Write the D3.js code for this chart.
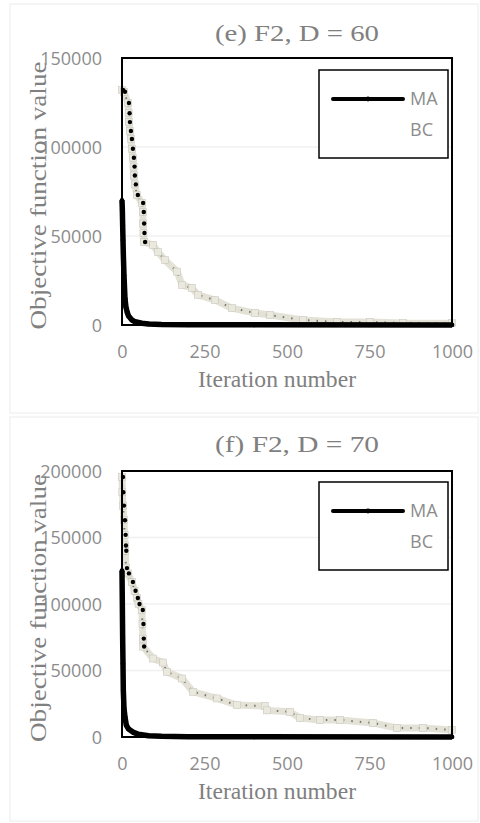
<!DOCTYPE html>
<html>
<head>
<meta charset="utf-8">
<script src="https://cdn.jsdelivr.net/npm/d3@7"></script>
<style>
  body { margin: 0; background: #fff; }
  svg { display: block; }
</style>
</head>
<body>
<div id="chart"></div>
<script>
// ---- data ----
const xTicks = [0, 250, 500, 750, 1000];
const seriesNames = ["MA", "BC"];

// panel (e) F2, D = 60
const yTicks60 = [0, 50000, 100000, 150000];
const ma60Iter = [0, 1, 2, 3, 4, 6, 9, 12, 16, 20, 30, 40, 60, 80, 120, 200, 400, 1000];
const ma60Val = [70000, 65000, 56000, 47700, 40000, 28000, 15000, 10000, 7000, 5000, 2800, 1800, 1000, 600, 300, 150, 80, 30];
const bc60Iter = [0, 6, 18, 20, 21, 24, 27, 30, 33, 35, 36, 39, 45, 61, 63, 64, 65, 67,
    94, 109, 130, 167, 182, 212, 230, 282, 333, 403, 448, 548, 651, 751, 851, 1000];
const bc60Val = [132000, 131000, 124700, 119000, 114000, 109000, 104500, 99000, 94000, 89000, 84000, 79000, 73000, 68500, 63500, 57000, 51700, 46600,
    45000, 41000, 36500, 30000, 22500, 20800, 17000, 14000, 9500, 6700, 5600, 2800, 1700, 1700, 1100, 1000];

// panel (f) F2, D = 70
const yTicks70 = [0, 50000, 100000, 150000, 200000];
const ma70Iter = [0, 1, 2, 3, 4, 6, 9, 13, 20, 33, 50, 80, 120, 200, 400, 1000];
const ma70Val = [125000, 100000, 74000, 55000, 35000, 22000, 15000, 9000, 6000, 3700, 2000, 1000, 500, 250, 100, 50];
const bc70Iter = [0, 1, 3, 6, 8, 9, 10, 12, 18, 30, 38, 45, 50, 60, 62, 63, 64,
    94, 124, 136, 182, 215, 288, 348, 433, 439, 509, 539, 600, 661, 761, 833, 912, 1000];
const bc70Val = [195500, 184000, 174000, 163000, 152000, 144000, 140000, 127000, 123000, 116500, 110000, 104500, 100000, 95500, 85000, 74000, 68000,
    59000, 56000, 49000, 44000, 34000, 29000, 24000, 23300, 20000, 19000, 14300, 12800, 12800, 10500, 6800, 6800, 5300];

const W = 480, H = 823;
const svg = d3.select("#chart").append("svg").attr("width", W).attr("height", H);

function drawPanel(p) {
    // outer frame of the chart object
    svg.append("rect")
        .attr("x", p.frame[0]).attr("y", p.frame[1])
        .attr("width", p.frame[2]).attr("height", p.frame[3])
        .attr("fill", "#fff").attr("stroke", "#ececec").attr("stroke-width", 1);

    const x = d3.scaleLinear().domain([0, 1000]).range([p.left, p.right]);
    const y = d3.scaleLinear().domain([0, p.yMax]).range([p.bottom, p.top]);

    // gridlines
    svg.append("g")
        .selectAll("line")
        .data(p.yTicks.slice(1))
        .join("line")
        .attr("x1", p.left).attr("x2", p.right)
        .attr("y1", d => y(d)).attr("y2", d => y(d))
        .attr("stroke", "#f0f0f0").attr("stroke-width", 1.5);

    // axes (labels only, the lines come from the plot border)
    const xAxis = svg.append("g")
        .attr("transform", `translate(0,${p.bottom + 20})`)
        .call(d3.axisBottom(x).tickValues(xTicks).tickSize(0).tickPadding(0).tickFormat(d3.format("d")));
    const yAxis = svg.append("g")
        .attr("transform", `translate(${p.left - 20},0)`)
        .call(d3.axisLeft(y).tickValues(p.yTicks).tickSize(0).tickPadding(0).tickFormat(d3.format("d")));
    [xAxis, yAxis].forEach(a => {
        a.select(".domain").remove();
        a.selectAll("text")
            .attr("fill", "#8c8c8c")
            .style("font-family", "'Open Sans', sans-serif")
            .style("font-size", "18px");
    });
    yAxis.selectAll("text").attr("dy", "0.35em");
    xAxis.selectAll("text").attr("dy", "0.72em");

    // series lines
    const line = d3.line().x(d => x(d[0])).y(d => y(d[1]));
    const bc = d3.zip(p.bcIter, p.bcVal);
    const ma = d3.zip(p.maIter, p.maVal);

    svg.append("path").datum(bc)
        .attr("d", line).attr("fill", "none")
        .attr("stroke", "#e4e2d6").attr("stroke-width", 7);
    svg.append("path").datum(bc)
        .attr("d", line).attr("fill", "none")
        .attr("stroke", "#77776f").attr("stroke-width", 2)
        .attr("stroke-dasharray", "1.5,7");
    svg.append("g").selectAll("rect")
        .data(bc)
        .join("rect")
        .attr("x", d => x(d[0]) - 3.5).attr("y", d => y(d[1]) - 3.5)
        .attr("width", 7).attr("height", 7)
        .attr("fill", "#ebe9de").attr("stroke", "#c4c3bb").attr("stroke-width", 0.5);
    svg.append("g").selectAll("circle")
        .data(bc.filter(d => d[0] < 70))
        .join("circle")
        .attr("cx", d => x(d[0]) + 1).attr("cy", d => y(d[1]))
        .attr("r", 2.2).attr("fill", "#000");

    svg.append("path").datum(ma)
        .attr("d", line).attr("fill", "none")
        .attr("stroke", "#000").attr("stroke-width", 5.5)
        .attr("stroke-linejoin", "round");
    svg.append("g").selectAll("circle")
        .data(ma)
        .join("circle")
        .attr("cx", d => x(d[0])).attr("cy", d => y(d[1]))
        .attr("r", 2.4).attr("fill", "#000");

    // plot border
    svg.append("rect")
        .attr("x", p.left).attr("y", p.top)
        .attr("width", p.right - p.left).attr("height", p.bottom - p.top)
        .attr("fill", "none").attr("stroke", "#000").attr("stroke-width", 2);

    // titles
    svg.append("text")
        .attr("x", 297).attr("y", p.titleY)
        .attr("text-anchor", "middle")
        .attr("fill", "#808080")
        .style("font-family", "'Liberation Serif', serif")
        .style("font-size", "24px")
        .attr("textLength", 164).attr("lengthAdjust", "spacingAndGlyphs")
        .text(p.title);
    svg.append("text")
        .attr("x", 277).attr("y", p.bottom + 62)
        .attr("text-anchor", "middle")
        .attr("fill", "#808080")
        .style("font-family", "'Liberation Serif', serif")
        .style("font-size", "23px")
        .attr("textLength", 158).attr("lengthAdjust", "spacingAndGlyphs")
        .text("Iteration number");
    svg.append("text")
        .attr("transform", `translate(46,${(p.top + p.bottom) / 2 + 4}) rotate(-90)`)
        .attr("text-anchor", "middle")
        .attr("fill", "#808080")
        .style("font-family", "'Liberation Serif', serif")
        .style("font-size", "23px")
        .attr("textLength", 268).attr("lengthAdjust", "spacingAndGlyphs")
        .text("Objective function value");

    // legend
    const lg = svg.append("g");
    lg.append("rect")
        .attr("x", p.legend[0]).attr("y", p.legend[1])
        .attr("width", 129).attr("height", 88)
        .attr("fill", "#fff").attr("stroke", "#000").attr("stroke-width", 1.5);
    const rows = lg.selectAll("g.item")
        .data(seriesNames)
        .join("g")
        .attr("class", "item")
        .attr("transform", (d, i) => `translate(${p.legend[0]},${p.legend[1] + 29 + i * 31})`);
    rows.filter(d => d === "MA").append("line")
        .attr("x1", 14).attr("x2", 84).attr("y1", 0).attr("y2", 0)
        .attr("stroke", "#000").attr("stroke-width", 4).attr("stroke-linecap", "round");
    rows.filter(d => d === "MA").append("circle")
        .attr("cx", 49).attr("cy", 0).attr("r", 2.4).attr("fill", "#000");
    rows.append("text")
        .attr("x", 91).attr("y", 0).attr("dy", "0.36em")
        .attr("fill", "#8c8c8c")
        .style("font-family", "'Open Sans', sans-serif")
        .style("font-size", "18px")
        .text(d => d);
}

drawPanel({
    frame: [10, 4, 468, 409],
    left: 122, right: 452, top: 58, bottom: 325,
    yMax: 150000, yTicks: yTicks60,
    maIter: ma60Iter, maVal: ma60Val, bcIter: bc60Iter, bcVal: bc60Val,
    title: "(e) F2, D = 60", titleY: 41,
    legend: [319, 70]
});
drawPanel({
    frame: [10, 417, 468, 404],
    left: 122, right: 452, top: 471, bottom: 737,
    yMax: 200000, yTicks: yTicks70,
    maIter: ma70Iter, maVal: ma70Val, bcIter: bc70Iter, bcVal: bc70Val,
    title: "(f) F2, D = 70", titleY: 452,
    legend: [319, 482]
});
</script>
</body>
</html>
